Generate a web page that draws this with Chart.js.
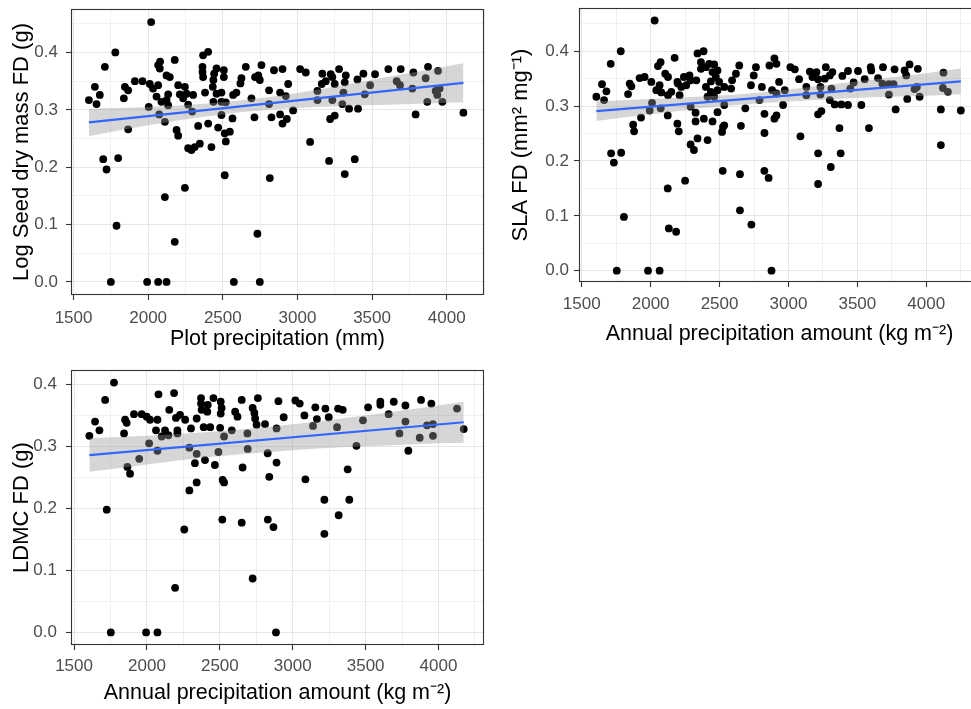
<!DOCTYPE html>
<html>
<head>
<meta charset="utf-8">
<script src="https://cdn.jsdelivr.net/npm/chart.js@4.4.1/dist/chart.umd.min.js"></script>
<style>
html, body { margin: 0; padding: 0; background: #ffffff; overflow: hidden; width: 971px; height: 709px; }
canvas { position: absolute; }
</style>
</head>
<body>
<canvas id="c1"></canvas>
<canvas id="c2"></canvas>
<canvas id="c3"></canvas>
<script>
// ---------- Panel 1: Log seed dry mass FD vs plot precipitation ----------
const seedPrecip = [2020,1780,1710,1643,1676,1603,1654,1844,1866,1837,
  1911,1962,2011,2033,2067,2078,2067,2080,2123,2145,
  2178,2056,2089,2123,2134,2134,2201,2212,2246,2257,
  2234,2268,2301,2004,2074,2112,2295,1866,2190,2201,
  2268,2290,2312,2346,2335,2402,2424,2368,2402,2364,
  2364,2368,2458,2507,2442,2507,2437,2433,2381,2458,
  2491,2437,2491,2520,2569,2591,2491,2469,2513,2547,
  2520,2565,2625,2618,2654,2692,2716,2738,2748,2759,
  2712,2513,2246,2112,1788,2178,2732,1699,1799,1721,
  1750,1993,2067,2123,2574,2748,2815,2826,2810,2843,
  2810,
  2900,2884,2922,2938,2884,2929,2900,2971,3018,3056,
  3085,3134,3134,3167,3163,3190,3223,3234,3279,3250,
  3324,3317,3308,3234,3301,3219,3250,3346,3406,3212,
  3384,3317,3402,3442,3487,3451,3520,3609,3665,3687,
  3692,3777,3770,3792,3859,3875,3870,3942,3926,3953,
  3971,3937,4112];
const seedFD = [0.453,0.400,0.375,0.340,0.326,0.317,0.310,0.340,0.334,0.320,
  0.350,0.350,0.345,0.337,0.343,0.372,0.378,0.384,0.360,0.357,
  0.387,0.323,0.314,0.317,0.308,0.327,0.343,0.327,0.340,0.328,
  0.320,0.309,0.326,0.305,0.292,0.279,0.297,0.266,0.265,0.255,
  0.233,0.230,0.235,0.241,0.272,0.276,0.235,0.395,0.401,0.375,
  0.366,0.357,0.372,0.369,0.363,0.357,0.352,0.340,0.330,0.328,
  0.330,0.314,0.314,0.313,0.326,0.330,0.291,0.269,0.259,0.262,
  0.245,0.285,0.355,0.346,0.375,0.320,0.357,0.360,0.352,0.378,
  0.287,0.186,0.164,0.148,0.098,0.070,0.084,0.214,0.216,0.196,
  0,0,0,0,0,0,0.181,0.287,0.334,0.369,
  0.310,
  0.371,0.330,0.324,0.345,0.292,0.284,0.276,0.299,0.371,0.365,
  0.244,0.333,0.317,0.363,0.345,0.350,0.362,0.357,0.371,0.345,
  0.360,0.348,0.330,0.317,0.310,0.284,0.290,0.302,0.302,0.211,
  0.214,0.188,0.353,0.363,0.343,0.327,0.362,0.371,0.350,0.343,
  0.371,0.365,0.337,0.292,0.355,0.375,0.314,0.368,0.333,0.337,
  0.314,0.326,0.295];
const seedFitX = [1603, 4112];
const seedFitY = [0.278, 0.347];
const seedBandX = [1603, 2000, 2400, 2800, 3200, 3600, 4112];
const seedBandLow = [0.254, 0.273, 0.289, 0.300, 0.306, 0.309, 0.313];
const seedBandHigh = [0.302, 0.305, 0.311, 0.322, 0.338, 0.357, 0.381];

// ---------- Panel 2: SLA FD vs annual precipitation ----------
const slaPrecip = [2029,1783,1710,1647,1679,1606,1662,1836,1848,1860,
  1920,1956,2005,2053,2072,2041,2065,2077,2106,2126,
  2174,2126,2150,2198,2222,2241,2258,2282,2290,2210,
  2194,2340,2384,2365,2365,2331,2401,2425,2461,2449,
  2485,2473,2437,2497,2401,2437,2485,2534,2584,2591,
  2643,2619,2413,2461,2534,2290,2326,2326,2386,2449,
  2485,2010,1993,2073,2124,1930,1873,1880,2194,2204,
  2290,2314,2340,2413,2518,2525,2534,2655,2687,2748,
  2728,2764,2790,2826,2826,2807,2862,2898,2881,2898,
  1786,1713,1733,2124,2250,2523,2648,2825,2856,1806,
  2132,2185,2648,2731,1754,1981,2065,2877,
  2913,2932,2913,2973,2961,2913,3014,3046,3077,
  3087,3130,3130,3155,3174,3203,3215,3232,3232,3271,
  3263,3300,3319,3312,3300,3336,3384,3432,3391,3432,
  3473,3449,3505,3553,3597,3601,3529,3215,3239,3370,
  3584,3215,3379,3307,3215,3650,3686,3681,3729,3763,
  3770,3729,3778,3843,3855,3879,3939,3915,3952,3862,
  3932,4125,4121,4157,4106,4106,4251];
const slaFD = [0.456,0.400,0.377,0.340,0.327,0.317,0.311,0.322,0.341,0.336,
  0.351,0.353,0.344,0.373,0.380,0.329,0.338,0.325,0.359,0.353,
  0.388,0.320,0.326,0.341,0.335,0.353,0.338,0.356,0.347,0.320,
  0.344,0.396,0.400,0.380,0.368,0.347,0.371,0.377,0.376,0.362,
  0.365,0.353,0.345,0.344,0.335,0.326,0.329,0.335,0.332,0.347,
  0.374,0.359,0.317,0.317,0.302,0.299,0.288,0.272,0.277,0.272,
  0.289,0.306,0.292,0.296,0.283,0.279,0.266,0.254,0.268,0.254,
  0.230,0.220,0.241,0.238,0.253,0.262,0.265,0.264,0.296,0.356,
  0.338,0.371,0.311,0.286,0.251,0.335,0.374,0.387,0.329,0.277,
  0.215,0.214,0.197,0.150,0.164,0.182,0.176,0.182,0.169,0.098,
  0.077,0.071,0.110,0.084,0,0,0,0,
  0.377,0.344,0.323,0.329,0.302,0.283,0.371,0.367,0.349,
  0.245,0.335,0.320,0.363,0.353,0.362,0.349,0.335,0.321,0.371,
  0.350,0.356,0.362,0.332,0.311,0.303,0.303,0.302,0.355,0.364,
  0.343,0.332,0.364,0.349,0.371,0.365,0.302,0.285,0.291,0.260,
  0.260,0.214,0.214,0.189,0.158,0.351,0.371,0.341,0.340,0.340,
  0.367,0.321,0.294,0.365,0.356,0.376,0.368,0.331,0.317,0.313,
  0.335,0.361,0.333,0.326,0.294,0.229,0.292];
const slaFitX = [1606, 4251];
const slaFitY = [0.291, 0.345];
const slaBandX = [1606, 2000, 2400, 2800, 3200, 3600, 4000, 4251];
const slaBandLow = [0.273, 0.285, 0.297, 0.305, 0.311, 0.316, 0.319, 0.3215];
const slaBandHigh = [0.309, 0.313, 0.318, 0.325, 0.336, 0.348, 0.360, 0.3685];

// ---------- Panel 3: LDMC FD vs annual precipitation ----------
const ldmcPrecip = [1774,1713,1644,1674,1605,1724,1850,1861,1843,1911,
  1964,1998,2021,2072,2079,2062,2015,1947,1866,1884,
  2072,2101,2124,2147,2153,2186,2199,2227,2209,2209,
  2262,2302,2341,2291,2341,2329,2398,2341,2291,2371,
  2371,2375,2417,2456,2414,2389,2434,2506,2512,2506,
  2502,2529,2490,2466,2519,2529,2582,2605,2621,2650,
  2656,2689,2691,2725,2737,2742,2761,2752,2810,2828,
  2839,2889,2902,2889,2517,2650,2829,2868,2256,2193,
  2725,1752,1994,2072,2885,
  3018,3048,2938,3080,3087,3155,3166,3139,3224,3247,
  3217,3217,3311,3343,3304,3315,3377,3388,3437,3482,
  3517,3601,3601,3658,3693,3732,3773,3773,3793,3880,
  3871,3921,3951,3962,3962,4127,4173];
const ldmcFD = [0.403,0.375,0.340,0.326,0.317,0.198,0.343,0.338,0.321,0.352,
  0.352,0.348,0.343,0.343,0.384,0.326,0.305,0.280,0.267,0.256,
  0.293,0.316,0.326,0.318,0.359,0.386,0.346,0.351,0.326,0.321,
  0.343,0.329,0.345,0.298,0.288,0.273,0.278,0.242,0.229,0.378,
  0.369,0.359,0.367,0.378,0.356,0.331,0.331,0.372,0.362,0.353,
  0.330,0.316,0.291,0.270,0.246,0.242,0.326,0.356,0.348,0.375,
  0.266,0.321,0.296,0.362,0.354,0.345,0.378,0.335,0.336,0.289,
  0.251,0.329,0.373,0.274,0.182,0.177,0.182,0.170,0.166,0.072,
  0.087,0,0,0,0,
  0.374,0.369,0.347,0.350,0.247,0.363,0.344,0.333,0.361,0.347,
  0.214,0.159,0.361,0.359,0.331,0.189,0.263,0.214,0.301,0.342,
  0.363,0.372,0.367,0.352,0.372,0.321,0.366,0.340,0.293,0.375,
  0.314,0.334,0.369,0.336,0.317,0.361,0.328];
const ldmcFitX = [1605, 4173];
const ldmcFitY = [0.286, 0.339];
const ldmcBandX = [1605, 2000, 2400, 2800, 3200, 3600, 4000, 4173];
const ldmcBandLow = [0.259, 0.271, 0.282, 0.290, 0.297, 0.301, 0.305, 0.306];
const ldmcBandHigh = [0.313, 0.317, 0.323, 0.331, 0.341, 0.353, 0.366, 0.372];

// ---------- Axis tick labels ----------
const xTickLabels = ['1500', '2000', '2500', '3000', '3500', '4000'];
const yTickLabels = ['0.0', '0.1', '0.2', '0.3', '0.4'];

// ---------- Rendering ----------
const FONT = "'Liberation Sans', Arial, sans-serif";
const zip = (xs, ys) => xs.map((x, i) => ({ x: x, y: ys[i] }));

// major ticks from the labels, minor ticks halfway between (as ggplot does)
function tickSet(labels) {
  const major = labels.map(Number);
  const step = major[1] - major[0];
  const all = [major[0] - step / 2];
  major.forEach(m => { all.push(m); all.push(m + step / 2); });
  return { major: major, all: all };
}
const xTicks = tickSet(xTickLabels);
const yTicks = tickSet(yTickLabels);
const near = (a, b) => Math.abs(a - b) < 1e-6 * Math.max(1, Math.abs(b));
const isMajorX = (v) => xTicks.major.some(m => near(v, m));
const isMajorY = (v) => yTicks.major.some(m => near(v, m));

const framePlugin = {
  id: 'frame',
  afterDatasetsDraw(chart) {
    const a = chart.chartArea, ctx = chart.ctx;
    ctx.save();
    ctx.strokeStyle = '#333333';
    ctx.lineWidth = 1.1;
    ctx.strokeRect(a.left + 0.5, a.top + 0.5, a.right - a.left - 1, a.bottom - a.top - 1);
    ctx.restore();
  }
};

function makePanel(id, lay, xs, ys, fitX, fitY, bandX, bandLow, bandHigh, xTitle, yTitle) {
  const cv = document.getElementById(id);
  cv.width = lay.w; cv.height = lay.h;
  cv.style.left = lay.left + 'px'; cv.style.top = lay.top + 'px';
  cv.style.width = lay.w + 'px'; cv.style.height = lay.h + 'px';
  const major = (ctx) => ctx.tick && (ctx.scale.axis === 'x' ? isMajorX(ctx.tick.value) : isMajorY(ctx.tick.value));
  const gridColor = (ctx) => major(ctx) ? '#E6E6E6' : '#F0F0F0';
  const tickColor = (ctx) => major(ctx) ? '#333333' : 'rgba(0,0,0,0)';
  new Chart(cv, {
    type: 'scatter',
    data: {
      datasets: [
        { type: 'line', data: zip(fitX, fitY), borderColor: '#3366FF', borderWidth: 2.2,
          pointRadius: 0, fill: false, order: 0 },
        { type: 'line', data: zip(bandX, bandHigh), borderWidth: 0, borderColor: 'rgba(0,0,0,0)',
          pointRadius: 0, fill: '+1', backgroundColor: 'rgba(153,153,153,0.4)', order: 1, cubicInterpolationMode: 'monotone' },
        { type: 'line', data: zip(bandX, bandLow), borderWidth: 0, borderColor: 'rgba(0,0,0,0)',
          pointRadius: 0, fill: false, order: 1, cubicInterpolationMode: 'monotone' },
        { data: zip(xs, ys), backgroundColor: '#000000', borderWidth: 0,
          pointRadius: 3.9, order: 2 }
      ]
    },
    options: {
      responsive: false,
      animation: false,
      events: [],
      layout: { padding: { top: 20, right: 20, bottom: 0, left: 0 } },
      plugins: { legend: { display: false }, tooltip: { enabled: false } },
      scales: {
        x: {
          type: 'linear', min: lay.xMin, max: lay.xMax,
          afterBuildTicks: (s) => { s.ticks = xTicks.all.filter(v => v >= s.min && v <= s.max).map(v => ({ value: v })); },
          afterFit: (s) => { s.height = lay.xH; },
          border: { display: false },
          grid: { color: gridColor, lineWidth: 1, tickLength: 5, tickColor: tickColor, tickWidth: 1.1 },
          ticks: {
            autoSkip: false, maxRotation: 0,
            padding: lay.xTickPad, color: '#4D4D4D', font: { family: FONT, size: lay.tickSize },
            callback: (v) => { const i = xTicks.major.findIndex(m => near(v, m)); return i >= 0 ? xTickLabels[i] : ''; }
          },
          title: { display: true, text: xTitle, color: '#000000', font: { family: FONT, size: lay.xTitleSize },
                   padding: { top: 0, bottom: 0 } }
        },
        y: {
          type: 'linear', min: lay.yMin, max: lay.yMax,
          afterBuildTicks: (s) => { s.ticks = yTicks.all.filter(v => v >= s.min && v <= s.max).map(v => ({ value: v })); },
          afterFit: (s) => { s.width = lay.yW; },
          border: { display: false },
          grid: { color: gridColor, lineWidth: 1, tickLength: 5, tickColor: tickColor, tickWidth: 1.1 },
          ticks: {
            autoSkip: false,
            padding: lay.yTickPad, color: '#4D4D4D', font: { family: FONT, size: lay.tickSize },
            callback: (v) => { const i = yTicks.major.findIndex(m => near(v, m)); return i >= 0 ? yTickLabels[i] : ''; }
          },
          title: { display: true, text: yTitle, color: '#000000', font: { family: FONT, size: lay.yTitleSize },
                   padding: { top: lay.yTitlePad, bottom: 0 } }
        }
      }
    },
    plugins: [framePlugin]
  });
}

makePanel('c1', { left: 0, top: -11, w: 504, h: 363, yW: 71, xH: 57,
  xMin: 1483, xMax: 4250, yMin: -0.0227, yMax: 0.4757,
  xTickPad: 8, yTickPad: 8, yTitlePad: 9, tickSize: 17, xTitleSize: 21.5, yTitleSize: 22 },
  seedPrecip, seedFD, seedFitX, seedFitY, seedBandX, seedBandLow, seedBandHigh,
  'Plot precipitation (mm)', 'Log Seed dry mass FD (g)');

makePanel('c2', { left: 499, top: -12, w: 501, h: 359, yW: 80, xH: 65,
  xMin: 1480, xMax: 4390, yMin: -0.0206, yMax: 0.4788,
  xTickPad: 7, yTickPad: 5, yTitlePad: 9, tickSize: 17, xTitleSize: 21.5, yTitleSize: 22 },
  slaPrecip, slaFD, slaFitX, slaFitY, slaBandX, slaBandLow, slaBandHigh,
  'Annual precipitation amount (kg m\u207B\u00B2)', 'SLA FD (mm\u00B2 mg\u207B\u00B9)');

makePanel('c3', { left: 0, top: 350, w: 504, h: 356, yW: 71, xH: 61,
  xMin: 1479, xMax: 4312, yMin: -0.0202, yMax: 0.4232,
  xTickPad: 6, yTickPad: 9, yTitlePad: 9, tickSize: 17, xTitleSize: 21.5, yTitleSize: 22 },
  ldmcPrecip, ldmcFD, ldmcFitX, ldmcFitY, ldmcBandX, ldmcBandLow, ldmcBandHigh,
  'Annual precipitation amount (kg m\u207B\u00B2)', 'LDMC FD (g)');
</script>
</body>
</html>
